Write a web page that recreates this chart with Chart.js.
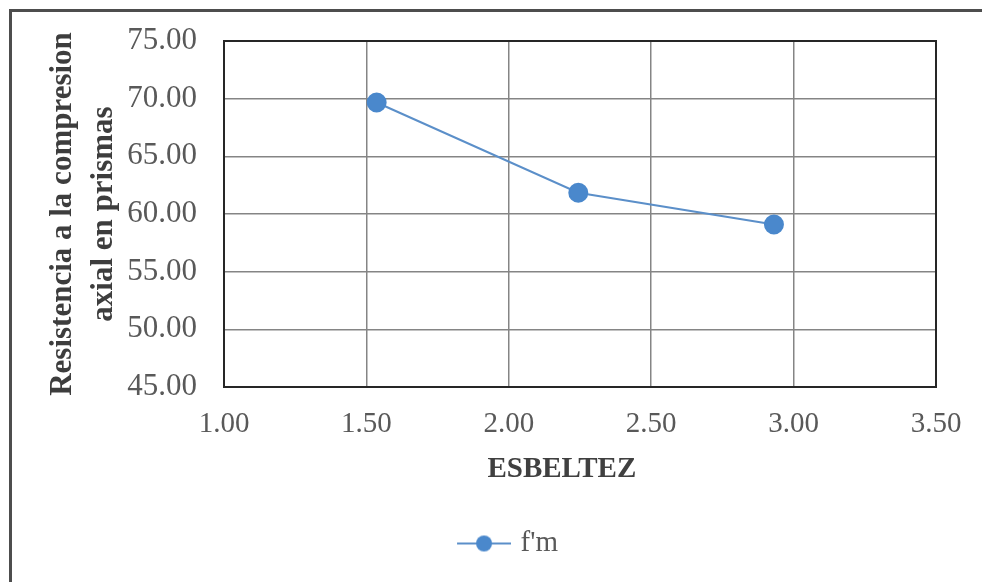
<!DOCTYPE html>
<html lang="es">
<head>
  <meta charset="UTF-8" />
  <title>Resistencia vs esbeltez</title>
  <script src="https://cdn.jsdelivr.net/npm/chart.js"></script>
  <style>
    body { margin: 0; padding: 0; background: #ffffff; }
    #wrap { position: relative; width: 982px; height: 582px; }
  </style>
</head>
<body>
  <div id="wrap"><canvas id="chart" width="982" height="582"></canvas></div>

  <script>
    // data
    const esbeltez = [1.536, 2.244, 2.931];
    const fm = [69.67, 61.84, 59.09];
    const seriesName = "f'm";
    const xTitle = 'ESBELTEZ\u00a0\u00a0\u00a0\u00a0\u00a0';
    const yTitle = ['Resistencia a la compresion', 'axial en prismas'];

    const serif = "'Liberation Serif', 'Times New Roman', serif";
    const blue = '#4a88cc';
    const clear = 'rgba(0,0,0,0)';

    // legend symbol: short line with a dot on it (drawn right-aligned in the canvas)
    const legendIcon = document.createElement('canvas');
    legendIcon.width = 64;
    legendIcon.height = 20;
    (function () {
      const c = legendIcon.getContext('2d');
      c.strokeStyle = '#5b8fc9';
      c.lineWidth = 2;
      c.beginPath();
      c.moveTo(10, 10);
      c.lineTo(64, 10);
      c.stroke();
      c.fillStyle = blue;
      c.beginPath();
      c.arc(37, 10, 8, 0, Math.PI * 2);
      c.fill();
    })();

    const framePlugin = {
      id: 'frame',
      afterLayout(chart) {
        // legend sits a bit right of centre in the original
        if (chart.legend) {
          chart.legend.left += 27;
          chart.legend.right += 27;
        }
      },
      beforeDraw(chart) {
        const ctx = chart.ctx;
        ctx.save();
        ctx.strokeStyle = '#4d4d4d';
        ctx.lineWidth = 3;
        ctx.strokeRect(10.5, 10.5, 1000, 600);
        ctx.restore();
      },
      beforeDatasetsDraw(chart) {
        const a = chart.chartArea;
        const ctx = chart.ctx;
        ctx.save();
        ctx.strokeStyle = '#262626';
        ctx.lineWidth = 2;
        ctx.strokeRect(a.left, a.top, a.right - a.left, a.bottom - a.top);
        ctx.restore();
      }
    };

    new Chart(document.getElementById('chart').getContext('2d'), {
      type: 'scatter',
      data: {
        datasets: [{
          label: seriesName,
          data: esbeltez.map((x, i) => ({ x: x, y: fm[i] })),
          showLine: true,
          borderColor: '#5b8fc9',
          borderWidth: 2,
          backgroundColor: blue,
          pointBackgroundColor: blue,
          pointBorderColor: blue,
          pointRadius: 9,
          pointHoverRadius: 9
        }]
      },
      options: {
        responsive: false,
        animation: false,
        layout: { padding: { left: 20, right: 46, top: 41, bottom: 14 } },
        plugins: {
          tooltip: { enabled: false },
          legend: {
            position: 'bottom',
            labels: {
              usePointStyle: true,
              pointStyleWidth: 54,
              padding: 10,
              color: '#595959',
              font: { family: serif, size: 29 },
              generateLabels: chart => [{
                text: seriesName,
                pointStyle: legendIcon,
                fillStyle: blue,
                strokeStyle: blue,
                lineWidth: 0,
                datasetIndex: 0,
                fontColor: '#595959'
              }]
            }
          }
        },
        scales: {
          x: {
            type: 'linear',
            min: 1,
            max: 3.5,
            afterFit: s => { s.height = 132; },
            ticks: {
              stepSize: 0.5,
              padding: 2,
              color: '#595959',
              font: { family: serif, size: 29 },
              callback: v => v.toFixed(2)
            },
            grid: { color: '#858585', lineWidth: 1.5, tickLength: 18, tickColor: clear },
            border: { display: false },
            title: {
              display: true,
              text: xTitle,
              color: '#404040',
              padding: { top: 0, bottom: 32 },
              font: { family: serif, size: 29, weight: 'bold' }
            }
          },
          y: {
            min: 45,
            max: 75,
            afterFit: s => { s.width = 204; },
            ticks: {
              stepSize: 5,
              padding: 2,
              color: '#595959',
              font: { family: serif, size: 31 },
              callback: v => v.toFixed(2)
            },
            grid: { color: '#858585', lineWidth: 1.5, tickLength: 25, tickColor: clear },
            border: { display: false },
            title: {
              display: true,
              text: yTitle,
              color: '#3d3d3d',
              padding: { top: 23, bottom: 0 },
              font: { family: serif, size: 31, weight: 'bold', lineHeight: 1.32 }
            }
          }
        }
      },
      plugins: [framePlugin]
    });
  </script>
</body>
</html>
